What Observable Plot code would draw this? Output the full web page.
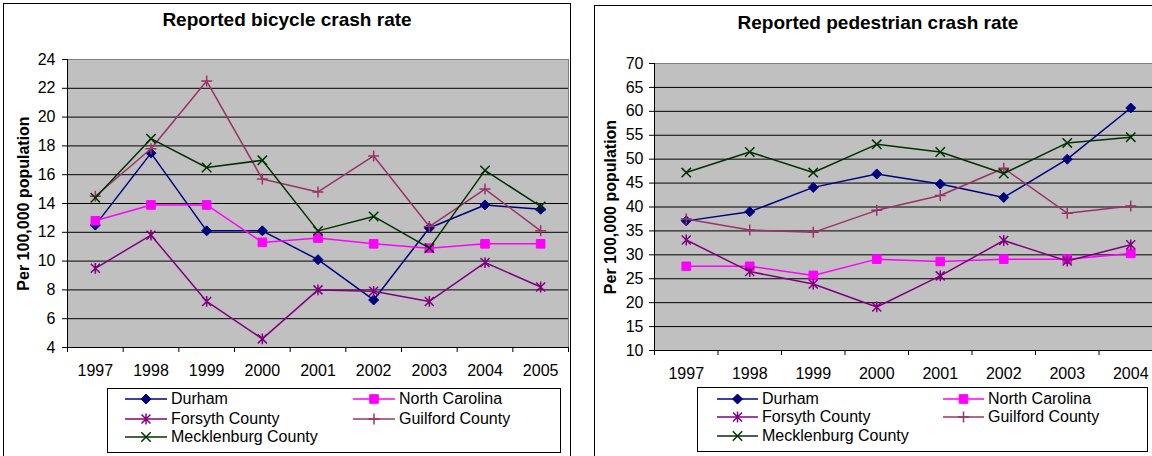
<!DOCTYPE html>
<html>
<head>
<meta charset="utf-8">
<script src="https://cdn.jsdelivr.net/npm/d3@7"></script>
<script src="https://cdn.jsdelivr.net/npm/@observablehq/plot@0.6"></script>
<style>
  html, body { margin: 0; padding: 0; background: #fff; }
  body { position: relative; width: 1152px; height: 456px; overflow: hidden;
         font-family: "Liberation Sans", Arial, sans-serif; color: #000; }
  .panel { position: absolute; border: 1px solid #000; background: #fff; width: 566px; height: 480px; }
  .title { position: absolute; width: 568px; text-align: center; font-weight: bold;
           font-size: 19px; line-height: 22px; }
  .chart { position: absolute; top: 0; }
  .legend { position: absolute; border: 1px solid #000; background: #fff; height: 63px; }
  .item { position: absolute; height: 20px; line-height: 20px; font-size: 16px; white-space: nowrap; }
  .item svg { position: absolute; left: 0; top: 0; }
  .item span { position: absolute; top: 0; }
</style>
</head>
<body>
<div class="panel" style="left:3px; top:3px;"></div>
<div class="panel" style="left:594px; top:5px;"></div>
<div class="title" style="left:3px; top:9px;">Reported bicycle crash rate</div>
<div class="title" style="left:594px; top:12px;">Reported pedestrian crash rate</div>
<div id="bike" class="chart" style="left:0px;"></div>
<div id="ped" class="chart" style="left:576px;"></div>
<div id="bikeLegend" class="legend" style="left:107px; top:388px; width:452px;"></div>
<div id="pedLegend" class="legend" style="left:697px; top:387px; width:449px;"></div>
<script>
// Series shown in both charts
const seriesNames = ["Durham", "North Carolina", "Forsyth County", "Guilford County", "Mecklenburg County"];
const seriesColors = ["#000080", "#ff00ff", "#800080", "#993366", "#003300"];

// Bicycle crashes per 100,000 population
const bikeYears = [1997, 1998, 1999, 2000, 2001, 2002, 2003, 2004, 2005];
const bikeDurham = [12.5, 17.5, 12.1, 12.1, 10.1, 7.3, 12.3, 13.9, 13.6];
const bikeNorthCarolina = [12.8, 13.9, 13.9, 11.3, 11.6, 11.2, 10.9, 11.2, 11.2];
const bikeForsyth = [9.5, 11.8, 7.2, 4.6, 8.0, 7.9, 7.2, 9.9, 8.2];
const bikeGuilford = [14.5, 17.8, 22.5, 15.7, 14.8, 17.3, 12.4, 15.0, 12.1];
const bikeMecklenburg = [14.4, 18.5, 16.5, 17.0, 12.1, 13.1, 10.9, 16.3, 13.8];
const bikeTicks = [4, 6, 8, 10, 12, 14, 16, 18, 20, 22, 24];

// Pedestrian crashes per 100,000 population
const pedYears = [1997, 1998, 1999, 2000, 2001, 2002, 2003, 2004];
const pedDurham = [37.1, 39.0, 44.1, 46.9, 44.8, 42.0, 50.0, 60.7];
const pedNorthCarolina = [27.6, 27.6, 25.7, 29.1, 28.6, 29.1, 29.1, 30.3];
const pedForsyth = [33.1, 26.5, 23.9, 19.1, 25.6, 33.0, 28.7, 32.1];
const pedGuilford = [37.5, 35.2, 34.7, 39.3, 42.4, 48.1, 38.7, 40.2];
const pedMecklenburg = [47.2, 51.5, 47.2, 53.1, 51.5, 47.0, 53.4, 54.6];
const pedTicks = [10, 15, 20, 25, 30, 35, 40, 45, 50, 55, 60, 65, 70];

const yTitle = "Per 100,000 population";

// Spreadsheet-style marker shapes; size is the area Plot passes in (π r²)
const rad = size => Math.sqrt(size / Math.PI);
const diamond = {draw(c, size) { const r = rad(size); c.moveTo(0, -r); c.lineTo(r, 0); c.lineTo(0, r); c.lineTo(-r, 0); c.closePath(); }};
const square = {draw(c, size) { const r = rad(size); c.rect(-r, -r, 2 * r, 2 * r); }};
const star = {draw(c, size) { const r = rad(size);
  c.moveTo(-r, -r); c.lineTo(r, r); c.moveTo(-r, r); c.lineTo(r, -r);
  c.moveTo(0, -r * 1.2); c.lineTo(0, r * 1.2); }};
const plus = {draw(c, size) { const r = rad(size); c.moveTo(-r, 0); c.lineTo(r, 0); c.moveTo(0, -r); c.lineTo(0, r); }};
const cross = {draw(c, size) { const r = rad(size); c.moveTo(-r, -r); c.lineTo(r, r); c.moveTo(-r, r); c.lineTo(r, -r); }};
const markers = [
  {symbol: diamond, r: 5, filled: true},
  {symbol: square, r: 4.3, filled: true},
  {symbol: star, r: 4.5, filled: false},
  {symbol: plus, r: 5.5, filled: false},
  {symbol: cross, r: 4.7, filled: false}
];

function drawChart(cfg) {
  const rows = [];
  seriesNames.forEach((name, i) =>
    cfg.years.forEach((year, j) => rows.push({name, year, value: cfg.values[i][j]})));
  // category boundaries carry the small tick marks under the x axis
  const edges = d3.range(cfg.years.length + 1).map(k => cfg.years[0] - 0.5 + k);
  const marks = [
    Plot.frame({fill: "#c0c0c0", stroke: "#808080"}),
    Plot.gridY(cfg.ticks.slice(0, -1), {stroke: "#000", strokeOpacity: 1}),
    Plot.ruleY([cfg.ticks[0]], {stroke: "#000"}),
    Plot.ruleX([edges[0]], {stroke: "#000"}),
    Plot.axisY(cfg.ticks, {tickSize: 5, tickPadding: cfg.yPad, fontSize: 16, label: null, tickFormat: d => String(d)}),
    Plot.axisX(edges, {tickSize: 5, tickFormat: () => "", label: null}),
    Plot.axisX(cfg.years, {tickSize: 0, tickPadding: 17, fontSize: 16, label: null, tickFormat: d => String(d)}),
    Plot.text([yTitle], {text: d => d, frameAnchor: "left", textAnchor: "middle", dx: cfg.titleDx,
      rotate: -90, fontSize: 16, fontWeight: "bold"})
  ];
  seriesNames.forEach((name, i) => {
    const data = rows.filter(d => d.name === name);
    const m = markers[i];
    marks.push(Plot.line(data, {x: "year", y: "value", stroke: seriesColors[i], strokeWidth: 1.5}));
    marks.push(Plot.dot(data, {x: "year", y: "value", symbol: m.symbol, r: m.r,
      fill: m.filled ? seriesColors[i] : "none", stroke: seriesColors[i], strokeWidth: m.filled ? 1 : 1.5}));
  });
  return Plot.plot({
    width: cfg.width, height: cfg.height,
    marginLeft: cfg.marginLeft, marginRight: cfg.marginRight,
    marginTop: cfg.marginTop, marginBottom: cfg.marginBottom,
    style: {background: "transparent", overflow: "visible", maxWidth: "none",
            fontFamily: "Liberation Sans, Arial, sans-serif", fontSize: "16px", color: "#000"},
    x: {type: "linear", domain: [edges[0], edges[edges.length - 1]]},
    y: {type: "linear", domain: [cfg.ticks[0], cfg.ticks[cfg.ticks.length - 1]]},
    marks
  });
}

function drawLegend(el, cfg) {
  seriesNames.forEach((name, i) => {
    const col = i % 2, row = Math.floor(i / 2);
    const item = document.createElement("div");
    item.className = "item";
    item.style.left = cfg.cols[col] + "px";
    item.style.top = (cfg.rows[row] - 10) + "px";
    const m = markers[i];
    const path = d3.symbol(m.symbol, m.r * m.r * Math.PI)();
    const w = cfg.swatch;
    item.innerHTML =
      `<svg width="${w}" height="20"><line x1="0" x2="${w}" y1="10" y2="10" stroke="${seriesColors[i]}" stroke-width="1.5"/>` +
      `<path transform="translate(${w / 2},10)" d="${path}" fill="${m.filled ? seriesColors[i] : "none"}" stroke="${seriesColors[i]}" stroke-width="${m.filled ? 1 : 1.5}"/></svg>` +
      `<span style="left:${w + 4}px">${name}</span>`;
    el.appendChild(item);
  });
}

document.getElementById("bike").appendChild(drawChart({
  years: bikeYears,
  values: [bikeDurham, bikeNorthCarolina, bikeForsyth, bikeGuilford, bikeMecklenburg],
  ticks: bikeTicks,
  width: 576, height: 400, marginLeft: 67, marginRight: 8, marginTop: 59, marginBottom: 53,
  yPad: 7, titleDx: -44
}));
document.getElementById("ped").appendChild(drawChart({
  years: pedYears,
  values: [pedDurham, pedNorthCarolina, pedForsyth, pedGuilford, pedMecklenburg],
  ticks: pedTicks,
  width: 624, height: 400, marginLeft: 78, marginRight: 38, marginTop: 63, marginBottom: 50,
  yPad: 6, titleDx: -44
}));
drawLegend(document.getElementById("bikeLegend"), {cols: [17, 245], rows: [10, 30, 48], swatch: 42});
drawLegend(document.getElementById("pedLegend"), {cols: [19, 245], rows: [11, 29, 48], swatch: 41});
</script>
</body>
</html>
